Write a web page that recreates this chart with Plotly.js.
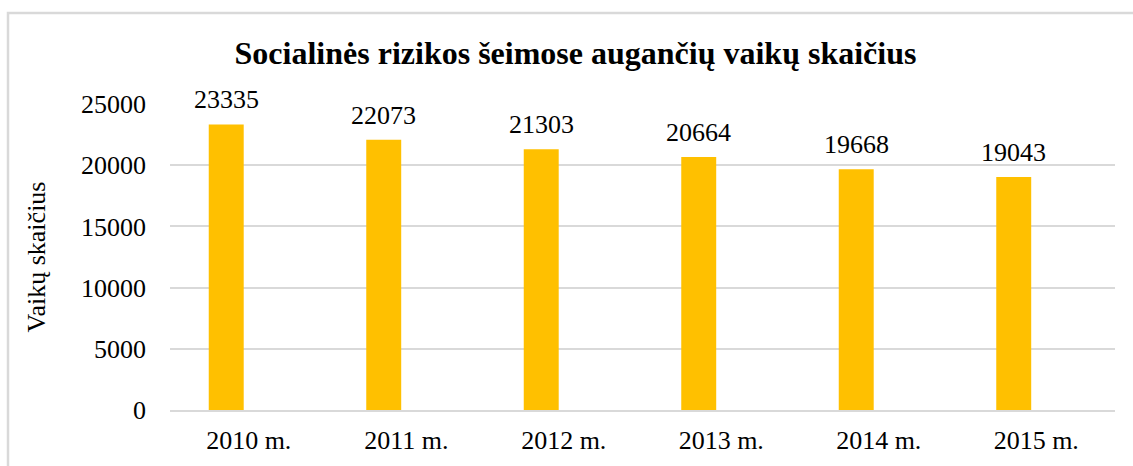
<!DOCTYPE html>
<html>
<head>
<meta charset="utf-8">
<script src="https://cdn.plot.ly/plotly-3.0.1.min.js"></script>
<style>
html,body{margin:0;padding:0;background:#fff;}
#chart{width:1133px;height:466px;}
</style>
</head>
<body>
<div id="chart"></div>
<script>
var categories = ["2010 m.", "2011 m.", "2012 m.", "2013 m.", "2014 m.", "2015 m."];
var values = [23335, 22073, 21303, 20664, 19668, 19043];
var chartTitle = "Socialinės rizikos šeimose augančių vaikų skaičius";
var yTitle = "Vaikų skaičius";

var barOffset = -0.254;
var barWidth = 0.222;
var FONT = "Liberation Serif";

var trace = {
  type: "bar",
  x: categories,
  y: values,
  offset: barOffset,
  width: barWidth,
  marker: {color: "#FFC000"},
  hoverinfo: "x+y"
};

var annotations = values.map(function (v, i) {
  return {
    x: i + barOffset + barWidth / 2,
    y: v,
    xref: "x",
    yref: "y",
    text: String(v),
    showarrow: false,
    yanchor: "bottom",
    yshift: 8,
    font: {family: FONT, size: 26, color: "#000"}
  };
});

var layout = {
  width: 1133,
  height: 466,
  margin: {l: 170, r: 18, t: 104, b: 56},
  paper_bgcolor: "#fff",
  plot_bgcolor: "#fff",
  showlegend: false,
  font: {family: FONT, size: 26, color: "#000"},
  title: {
    text: "<b>" + chartTitle + "</b>",
    font: {family: FONT, size: 32, color: "#000"},
    x: 575.5 / 1133, xref: "container", xanchor: "center",
    y: 0.886, yref: "container", yanchor: "middle"
  },
  xaxis: {
    type: "category",
    range: [-0.5, categories.length - 0.5],
    showgrid: false,
    showline: true,
    linecolor: "#d9d9d9",
    linewidth: 1.5,
    ticks: "",
    ticklabelstandoff: 6,
    tickfont: {family: FONT, size: 26, color: "#000"},
    fixedrange: true
  },
  yaxis: {
    range: [0, 25000],
    dtick: 5000,
    tick0: 0,
    tickformat: "d",
    showgrid: true,
    gridcolor: "#d9d9d9",
    gridwidth: 1.5,
    zeroline: false,
    showline: false,
    ticks: "",
    ticklabelstandoff: 23,
    tickfont: {family: FONT, size: 26, color: "#000"},
    title: {text: yTitle, font: {family: FONT, size: 26, color: "#000"}, standoff: 27},
    fixedrange: true
  },
  shapes: [
    {type: "rect", xref: "paper", yref: "paper",
     x0: (8 - 170) / 945, x1: (1140 - 170) / 945,
     y0: (410 - 480) / 306, y1: (410 - 13) / 306,
     line: {color: "#d9d9d9", width: 2.5}, fillcolor: "rgba(0,0,0,0)", layer: "below"}
  ],
  annotations: annotations
};

Plotly.newPlot("chart", [trace], layout, {displayModeBar: false});
</script>
</body>
</html>
